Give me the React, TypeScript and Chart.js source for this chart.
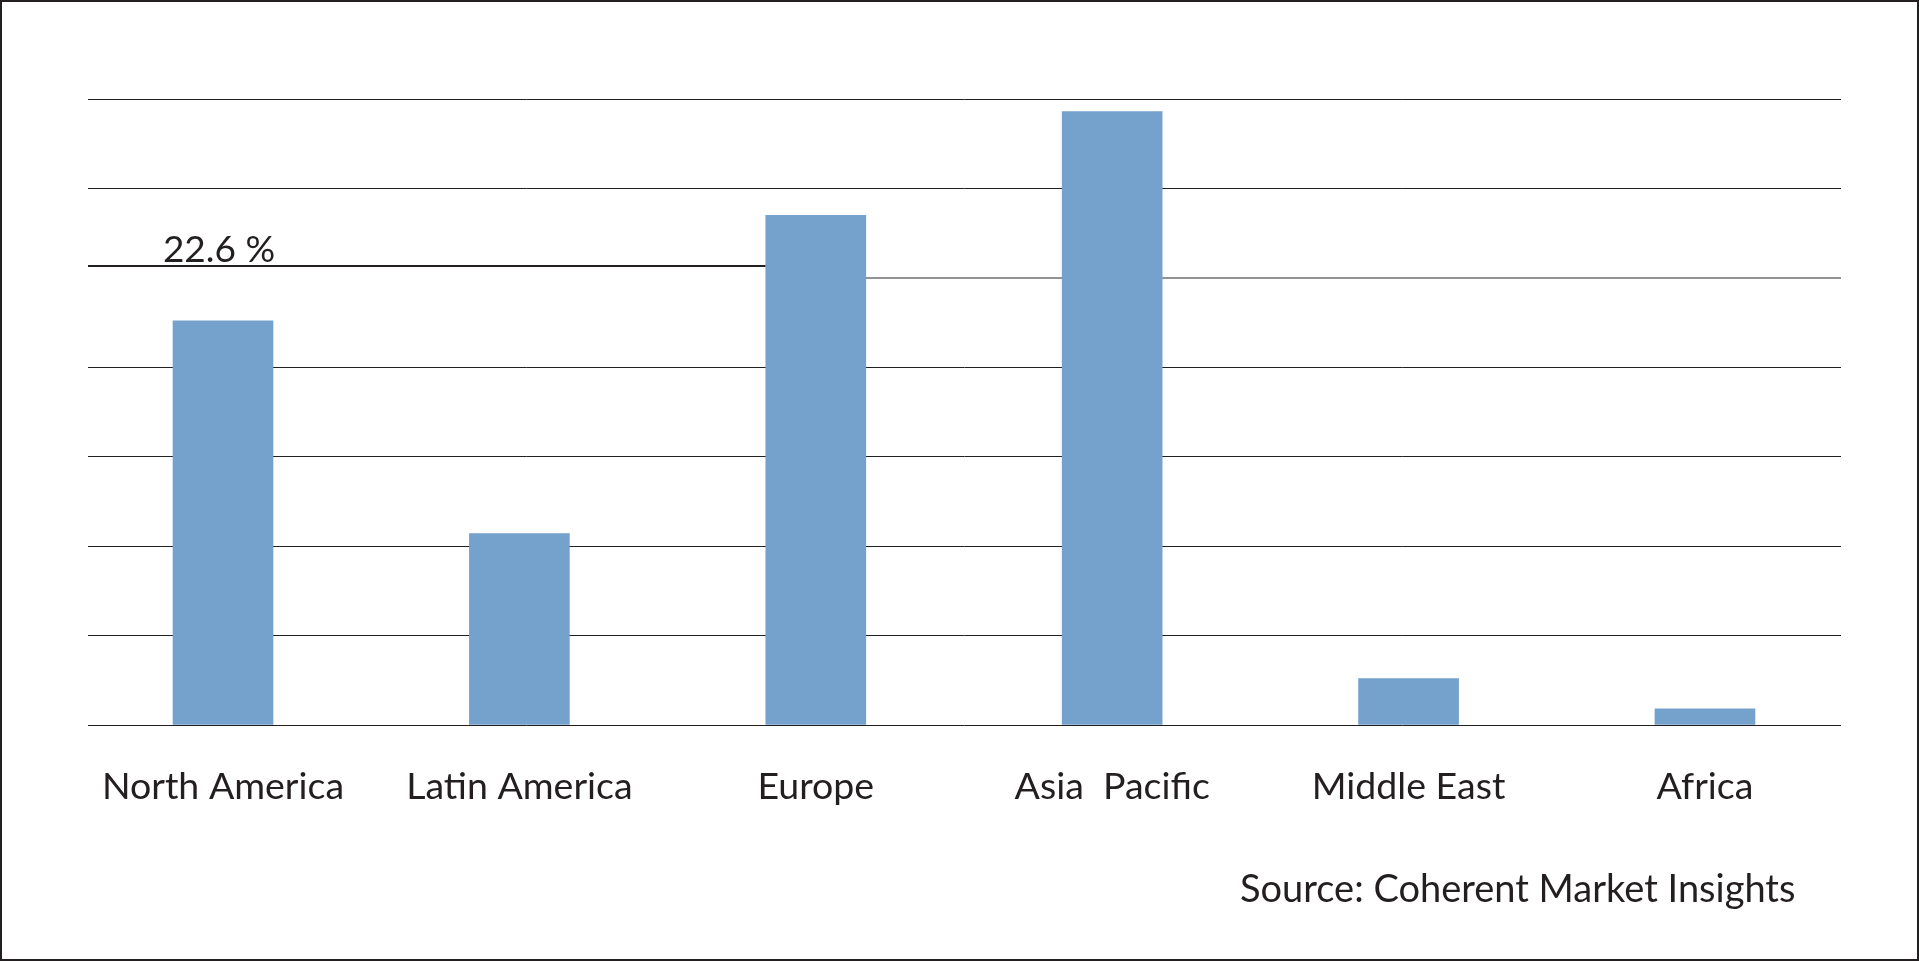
import React, { useEffect, useRef } from "react";
import { Chart, registerables } from "chart.js";

Chart.register(...registerables);

const categories = ["North America", "Latin America", "Europe", "Asia  Pacific", "Middle East", "Africa"];
const shareValues = [22.6, 10.7, 28.5, 34.3, 2.6, 0.9];
const yTickValues = [0, 5, 10, 15, 20, 25, 30, 35];
const annotationText = "22.6 %";
const annotationLineValue = 25.65;
const partialGridValue = 25;
const sourceText = "Source: Coherent Market Insights";

const FONT = "Lato, 'Open Sans', sans-serif";
const INK = "#231f20";
const BAR = "#75a1cd";

const annotationPlugin = {
  id: "annotation22",
  beforeDatasetsDraw(chart: any) {
    const { ctx, chartArea, scales } = chart;
    const y = scales.y;
    const meta = chart.getDatasetMeta(0);
    const eu: any = meta.data[2];
    const na: any = meta.data[0];
    const euLeft = eu.x - eu.width / 2;
    const euRight = eu.x + eu.width / 2;
    ctx.save();
    const yg = Math.round(y.getPixelForValue(partialGridValue));
    ctx.strokeStyle = "#929292";
    ctx.lineWidth = 2;
    ctx.beginPath();
    ctx.moveTo(euRight, yg);
    ctx.lineTo(chartArea.right, yg);
    ctx.stroke();
    const ya = Math.round(y.getPixelForValue(annotationLineValue));
    ctx.strokeStyle = INK;
    ctx.lineWidth = 2;
    ctx.beginPath();
    ctx.moveTo(chartArea.left, ya);
    ctx.lineTo(euLeft, ya);
    ctx.stroke();
    ctx.fillStyle = INK;
    ctx.font = `37px ${FONT}`;
    ctx.textAlign = "center";
    ctx.textBaseline = "alphabetic";
    ctx.fillText(annotationText, na.x - 4, ya - 4);
    ctx.restore();
  },
};

export default function App() {
  const ref = useRef<HTMLCanvasElement | null>(null);
  useEffect(() => {
    document.body.style.margin = "0";
    const canvas = ref.current!;
    const chart = new Chart(canvas, {
      type: "bar",
      data: {
        datasets: [
          {
            data: shareValues.map((v, i) => ({ x: i, y: v })),
            backgroundColor: BAR,
            borderWidth: 0,
            barThickness: 100,
          },
        ],
      },
      options: {
        animation: false,
        responsive: false,
        devicePixelRatio: 1,
        layout: { padding: { left: 88, right: 78, top: 99, bottom: 0 } },
        plugins: { legend: { display: false }, tooltip: { enabled: false } },
        scales: {
          x: {
            type: "linear",
            offset: false,
            min: -0.4555,
            max: 5.459,
            grid: { display: false, offset: false },
            border: { display: false },
            afterBuildTicks: (axis: any) => {
              axis.ticks = categories.map((_, i) => ({ value: i }));
            },
            afterFit: (axis: any) => {
              axis.height = 961 - 725;
            },
            ticks: {
              autoSkip: false,
              maxRotation: 0,
              padding: 31,
              color: INK,
              font: { family: FONT, size: 37.5 },
              callback: (v: any) => categories[v as number] ?? "",
            },
          },
          y: {
            min: 0,
            max: 35,
            afterBuildTicks: (axis: any) => {
              axis.ticks = yTickValues.map((v) => ({ value: v }));
            },
            afterFit: (axis: any) => {
              axis.width = 0;
            },
            ticks: { display: false },
            border: { display: false },
            grid: {
              drawTicks: false,
              lineWidth: 1,
              color: (c: any) => (c.tick && c.tick.value === partialGridValue ? "rgba(0,0,0,0)" : INK),
            },
          },
        },
      },
      plugins: [annotationPlugin],
    });
    return () => chart.destroy();
  }, []);
  return (
    <div style={{ position: "fixed", left: 0, top: 0, width: 1919, height: 961, background: "#fff" }}>
      <canvas ref={ref} width={1919} height={961} style={{ position: "absolute", left: 0, top: 0, width: 1919, height: 961 }} />
      <div
        style={{
          position: "absolute",
          left: 1240,
          top: 864,
          fontFamily: FONT,
          fontSize: 38,
          color: INK,
          whiteSpace: "nowrap",
          lineHeight: "normal",
        }}
      >
        {sourceText}
      </div>
      <div
        style={{
          position: "absolute",
          left: 0,
          top: 0,
          width: 1919,
          height: 961,
          boxSizing: "border-box",
          border: `2px solid ${INK}`,
          pointerEvents: "none",
        }}
      />
    </div>
  );
}
